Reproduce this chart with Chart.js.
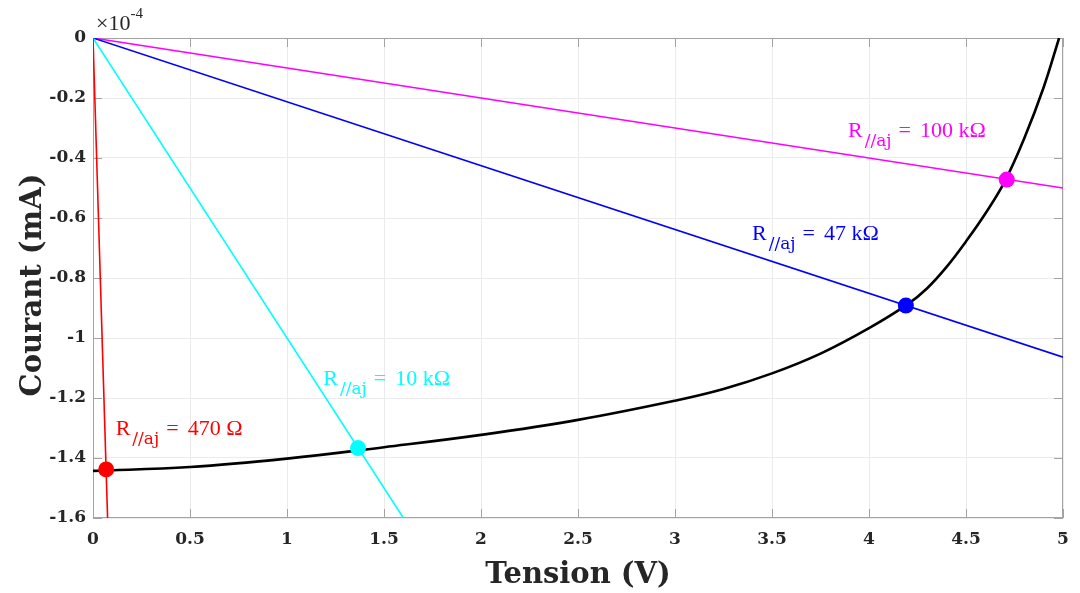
<!DOCTYPE html>
<html>
<head>
<meta charset="utf-8">
<script src="https://cdn.jsdelivr.net/npm/chart.js@4"></script>
<style>
  html, body { margin: 0; padding: 0; background: #fff; }
  #c { display: block; }
</style>
</head>
<body>
<canvas id="c" width="1080" height="593"></canvas>
<script>
// ---------- DATA ----------
const xTickValues = [0, 0.5, 1, 1.5, 2, 2.5, 3, 3.5, 4, 4.5, 5];
const xTickLabels = ['0', '0.5', '1', '1.5', '2', '2.5', '3', '3.5', '4', '4.5', '5'];
const yTickValues = [-1.6, -1.4, -1.2, -1, -0.8, -0.6, -0.4, -0.2, 0];
const yTickLabels = ['-1.6', '-1.4', '-1.2', '-1', '-0.8', '-0.6', '-0.4', '-0.2', '0'];

// I-V characteristic (black curve)
const curveV = [0, 0.5, 1.0, 1.5, 2.0, 2.5, 3.0, 3.25, 3.5, 3.75, 4.0, 4.2, 4.3, 4.4, 4.5, 4.6, 4.7, 4.8, 4.9, 4.98];
const curveI = [-1.443, -1.43, -1.402, -1.364, -1.323, -1.273, -1.209, -1.17, -1.118, -1.052, -0.967, -0.887, -0.834, -0.763, -0.678, -0.585, -0.478, -0.335, -0.165, 0];

// Load lines (start and end points)
const loadNames = ['470 Ω', '10 kΩ', '47 kΩ', '100 kΩ'];
const loadV = [[0, 0.0752], [0, 1.6], [0, 5], [0, 5]];
const loadI = [[0, -1.6], [0, -1.6], [0, -1.064], [0, -0.5]];
const loadColors = ['#ff0000', '#00ffff', '#0000ff', '#ff00ff'];

// Operating points
const opV = [0.068, 1.366, 4.19, 4.71];
const opI = [-1.438, -1.367, -0.892, -0.472];

// Label anchors (data coords of the "R" baseline-left)
const labelV = [0.117, 1.187, 3.397, 3.892];
const labelI = [-1.323, -1.157, -0.673, -0.33];

// ---------- CHART ----------
const textCol = '#262626';
const axisCol = '#a3a3a3';
const gridCol = '#ebebeb';

const datasets = [];
loadNames.forEach((n, i) => {
  datasets.push({
    label: 'R//aj = ' + n,
    data: loadV[i].map((v, k) => ({ x: v, y: loadI[i][k] })),
    showLine: true,
    borderColor: loadColors[i],
    borderWidth: 1.6,
    pointRadius: 0,
    order: 3
  });
});
datasets.push({
  label: 'I(V)',
  data: curveV.map((v, k) => ({ x: v, y: curveI[k] })),
  showLine: true,
  borderColor: '#000',
  borderWidth: 2.6,
  pointRadius: 0,
  tension: 0.4,
  order: 2
});
datasets.push({
  label: 'points',
  data: opV.map((v, k) => ({ x: v, y: opI[k] })),
  showLine: false,
  pointRadius: 8,
  pointHoverRadius: 8,
  backgroundColor: loadColors,
  borderColor: loadColors,
  borderWidth: 0,
  order: 1
});

const decor = {
  id: 'decor',
  beforeDatasetsDraw(chart) {
    const { ctx, chartArea: a, scales } = chart;
    ctx.save();
    ctx.strokeStyle = axisCol;
    ctx.lineWidth = 1;
    ctx.strokeRect(a.left + 0.5, a.top + 0.5, a.right - a.left - 1, a.bottom - a.top - 1);
    ctx.beginPath();
    const tl = 9;
    xTickValues.forEach(v => {
      const px = Math.round(scales.x.getPixelForValue(v)) + 0.5;
      ctx.moveTo(px, a.bottom); ctx.lineTo(px, a.bottom - tl);
      ctx.moveTo(px, a.top); ctx.lineTo(px, a.top + tl);
    });
    yTickValues.forEach(v => {
      const py = Math.round(scales.y.getPixelForValue(v)) + 0.5;
      ctx.moveTo(a.left, py); ctx.lineTo(a.left + tl, py);
      ctx.moveTo(a.right, py); ctx.lineTo(a.right - tl, py);
    });
    ctx.stroke();
    ctx.restore();
  },
  afterDatasetsDraw(chart) {
    const { ctx, chartArea: a, scales } = chart;
    ctx.save();
    // load labels
    loadNames.forEach((n, i) => {
      let x = scales.x.getPixelForValue(labelV[i]);
      const y = scales.y.getPixelForValue(labelI[i]);
      ctx.fillStyle = loadColors[i];
      ctx.textBaseline = 'alphabetic';
      ctx.textAlign = 'left';
      ctx.font = '22px "Liberation Serif"';
      ctx.fillText('R', x, y);
      x += ctx.measureText('R').width + 2;
      ctx.font = '17px "DejaVu Serif"';
      ctx.fillText('//aj', x, y + 9);
      x += ctx.measureText('//aj').width + 7;
      ctx.font = '22px "Liberation Serif"';
      ctx.fillText('=', x, y);
      x += ctx.measureText('=').width + 9;
      ctx.fillText(n, x, y);
    });
    // exponent
    ctx.fillStyle = textCol;
    ctx.font = '22px "Liberation Serif"';
    ctx.fillText('×10', a.left + 3, a.top - 8);
    const w = ctx.measureText('×10').width;
    ctx.font = '15px "Liberation Serif"';
    ctx.fillText('-4', a.left + 3 + w, a.top - 20);
    // axis titles
    ctx.font = 'bold 29px "DejaVu Serif"';
    ctx.textAlign = 'center';
    ctx.fillText('Tension (V)', (a.left + a.right) / 2, 583);
    ctx.translate(41, (a.top + a.bottom) / 2 + 7);
    ctx.rotate(-Math.PI / 2);
    ctx.fillText('Courant (mA)', 0, 0);
    ctx.restore();
  }
};

new Chart(document.getElementById('c'), {
  type: 'scatter',
  data: { datasets },
  plugins: [decor],
  options: {
    responsive: false,
    devicePixelRatio: 1,
    animation: false,
    events: [],
    layout: { padding: { left: 0, top: 38, right: 17, bottom: 0 } },
    plugins: { legend: { display: false }, tooltip: { enabled: false } },
    scales: {
      x: {
        type: 'linear', min: 0, max: 5,
        afterBuildTicks: s => { s.ticks = xTickValues.map(v => ({ value: v })); },
        afterFit: s => { s.height = 75; },
        border: { display: false },
        grid: { color: gridCol, drawTicks: false, lineWidth: 1 },
        ticks: {
          padding: 11,
          color: textCol,
          font: { family: 'DejaVu Serif', weight: 'bold', size: 17 },
          callback: (v, i) => xTickLabels[i],
          maxRotation: 0
        }
      },
      y: {
        type: 'linear', min: -1.6, max: 0,
        afterBuildTicks: s => { s.ticks = yTickValues.map(v => ({ value: v })); },
        afterFit: s => { s.width = 93; },
        border: { display: false },
        grid: { color: gridCol, drawTicks: false, lineWidth: 1 },
        ticks: {
          padding: 7,
          color: textCol,
          font: { family: 'DejaVu Serif', weight: 'bold', size: 17 },
          callback: (v, i) => yTickLabels[i]
        }
      }
    }
  }
});
</script>
</body>
</html>
